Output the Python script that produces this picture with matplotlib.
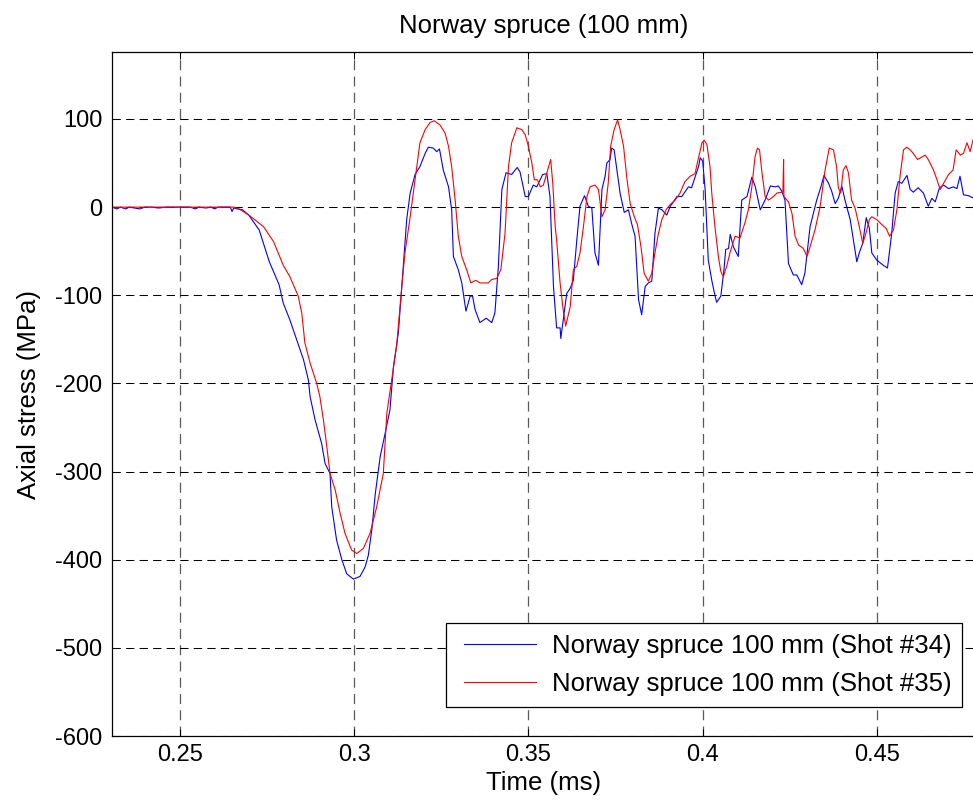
import numpy as np
import matplotlib
matplotlib.use("Agg")
import matplotlib.pyplot as plt
from matplotlib.legend_handler import HandlerLine2D

plt.rcParams['font.family'] = ['Liberation Sans', 'DejaVu Sans']
plt.rcParams['axes.unicode_minus'] = False

# Shot #34 (blue) - time in ms, axial stress in MPa
t34 = [0.2306, 0.2320, 0.2330, 0.2345, 0.2355, 0.2370, 0.2385, 0.2400, 0.2420, 0.2440,
       0.2460, 0.2530, 0.2545, 0.2555, 0.2575, 0.2590, 0.2600, 0.2610, 0.2645, 0.2650,
       0.2655, 0.2665, 0.2680, 0.2698, 0.2728, 0.2757, 0.2785, 0.2797, 0.2816, 0.2836,
       0.2855, 0.2869, 0.2874, 0.2888, 0.2907, 0.2917, 0.2931, 0.2936, 0.2950, 0.2965,
       0.2979, 0.2998, 0.3017, 0.3032, 0.3041, 0.3051, 0.3061, 0.3075, 0.3089, 0.3103,
       0.3113, 0.3127, 0.3137, 0.3151, 0.3161, 0.3175, 0.3189, 0.3204, 0.3213, 0.3227,
       0.3237, 0.3245, 0.3256, 0.3271, 0.3280, 0.3285, 0.3299, 0.3309, 0.3321, 0.3333,
       0.3340, 0.3347, 0.3361, 0.3379, 0.3395, 0.3404, 0.3414, 0.3424, 0.3436, 0.3452,
       0.3468, 0.3476, 0.3491, 0.3500, 0.3514, 0.3524, 0.3541, 0.3553, 0.3562, 0.3572,
       0.3581, 0.3591, 0.3593, 0.3600, 0.3610, 0.3620, 0.3629, 0.3639, 0.3648, 0.3661,
       0.3672, 0.3682, 0.3691, 0.3701, 0.3711, 0.3720, 0.3725, 0.3734, 0.3739, 0.3746,
       0.3754, 0.3763, 0.3775, 0.3787, 0.3797, 0.3806, 0.3816, 0.3825, 0.3835, 0.3844,
       0.3854, 0.3863, 0.3873, 0.3883, 0.3897, 0.3907, 0.3916, 0.3926, 0.3940, 0.3959,
       0.3968, 0.3979, 0.3988, 0.3993, 0.4000, 0.4007, 0.4016, 0.4026, 0.4035, 0.4040,
       0.4052, 0.4061, 0.4066, 0.4074, 0.4079, 0.4088, 0.4102, 0.4112, 0.4127, 0.4141,
       0.4151, 0.4165, 0.4179, 0.4194, 0.4208, 0.4217, 0.4227, 0.4236, 0.4246, 0.4260,
       0.4270, 0.4284, 0.4293, 0.4308, 0.4327, 0.4339, 0.4348, 0.4361, 0.4370, 0.4380,
       0.4389, 0.4399, 0.4408, 0.4423, 0.4432, 0.4442, 0.4449, 0.4459, 0.4469, 0.4478,
       0.4485, 0.4499, 0.4518, 0.4530, 0.4542, 0.4552, 0.4561, 0.4571, 0.4586, 0.4595,
       0.4604, 0.4618, 0.4633, 0.4647, 0.4657, 0.4667, 0.4679, 0.4691, 0.4705, 0.4719,
       0.4729, 0.4738, 0.4748, 0.4762, 0.4778]
s34 = [0, -2, 0, -2, 0, -1, -2, 0, 0, -1,
       0, 0, -2, 0, -1, 0, -2, 0, 0, -5,
       -1, -2, -3, -9, -26, -62, -88, -109, -128, -151,
       -173, -196, -215, -241, -268, -291, -302, -340, -378, -400,
       -416, -422, -419, -408, -395, -366, -325, -283, -257, -230,
       -181, -143, -90, -14, 16, 37, 46, 61, 68, 67,
       63, 66, 42, 23, -3, -56, -71, -86, -118, -101,
       -101, -116, -131, -126, -131, -120, -67, 20, 39, 37,
       45, 40, 12, 12, 25, 23, 37, 38, 12, -90,
       -137, -137, -149, -128, -98, -92, -83, -37, 1, 13,
       1, -1, -52, -66, 20, 35, 50, 54, 67, 65,
       42, 16, -6, -3, -20, -33, -105, -122, -90, -86,
       -84, -30, -1, -3, -9, 1, 6, 12, 12, 23,
       22, 35, 46, 56, 52, 20, -60, -83, -100, -108,
       -101, -71, -48, -47, -31, -45, -56, 8, 12, 34,
       23, -3, 8, 24, 23, 24, 18, 8, -64, -77,
       -77, -88, -75, -22, 8, 23, 36, 27, 18, 4,
       10, 24, 8, -14, -37, -62, -52, -41, -12, -24,
       -52, -60, -66, -69, -30, 16, 29, 27, 36, 20,
       17, 22, 16, 1, 10, 6, 22, 25, 21, 23,
       21, 35, 14, 13, 10]

# Shot #35 (red)
t35 = [0.2306, 0.2400, 0.2500, 0.2600, 0.2655, 0.2670, 0.2698, 0.2740, 0.2769, 0.2797,
       0.2816, 0.2840, 0.2850, 0.2859, 0.2874, 0.2893, 0.2902, 0.2912, 0.2922, 0.2931,
       0.2946, 0.2960, 0.2974, 0.2993, 0.3008, 0.3027, 0.3046, 0.3065, 0.3084, 0.3094,
       0.3108, 0.3122, 0.3137, 0.3146, 0.3161, 0.3175, 0.3189, 0.3204, 0.3218, 0.3230,
       0.3247, 0.3261, 0.3271, 0.3280, 0.3290, 0.3299, 0.3309, 0.3323, 0.3335, 0.3349,
       0.3361, 0.3385, 0.3395, 0.3409, 0.3421, 0.3433, 0.3443, 0.3452, 0.3467, 0.3481,
       0.3491, 0.3500, 0.3510, 0.3517, 0.3526, 0.3534, 0.3543, 0.3553, 0.3564, 0.3570,
       0.3577, 0.3581, 0.3591, 0.3600, 0.3607, 0.3620, 0.3629, 0.3639, 0.3648, 0.3658,
       0.3668, 0.3677, 0.3691, 0.3701, 0.3711, 0.3720, 0.3729, 0.3736, 0.3746, 0.3756,
       0.3763, 0.3773, 0.3783, 0.3792, 0.3804, 0.3813, 0.3823, 0.3832, 0.3844, 0.3854,
       0.3863, 0.3873, 0.3883, 0.3895, 0.3907, 0.3921, 0.3935, 0.3949, 0.3964, 0.3978,
       0.3988, 0.3998, 0.4004, 0.4012, 0.4021, 0.4026, 0.4035, 0.4045, 0.4052, 0.4059,
       0.4069, 0.4078, 0.4093, 0.4107, 0.4121, 0.4131, 0.4141, 0.4150, 0.4157, 0.4163,
       0.4170, 0.4179, 0.4189, 0.4203, 0.4213, 0.4227, 0.4230, 0.4232, 0.4233, 0.4246,
       0.4256, 0.4265, 0.4275, 0.4289, 0.4299, 0.4308, 0.4322, 0.4337, 0.4351, 0.4363,
       0.4375, 0.4384, 0.4389, 0.4396, 0.4403, 0.4411, 0.4418, 0.4427, 0.4437, 0.4449,
       0.4459, 0.4468, 0.4478, 0.4485, 0.4499, 0.4514, 0.4526, 0.4536, 0.4547, 0.4557,
       0.4566, 0.4576, 0.4585, 0.4595, 0.4604, 0.4616, 0.4629, 0.4638, 0.4647, 0.4662,
       0.4672, 0.4681, 0.4691, 0.4705, 0.4718, 0.4727, 0.4739, 0.4748, 0.4758, 0.4767,
       0.4778]
s35 = [0, 0, 0, 0, 0, -2, -9, -22, -39, -66,
       -79, -101, -120, -154, -177, -200, -215, -241, -272, -302,
       -321, -347, -370, -389, -393, -387, -370, -340, -302, -234,
       -196, -158, -90, -52, -11, 31, 73, 88, 96, 98,
       93, 84, 69, 46, 8, -33, -56, -71, -86, -83,
       -86, -86, -82, -81, -71, -30, 46, 73, 90, 88,
       82, 69, 50, 31, 31, 23, 25, 39, 54, 27,
       -22, -37, -86, -117, -135, -113, -71, -67, -52, -22,
       12, 23, 25, 20, -11, -3, 27, 69, 88, 99,
       88, 69, 31, 4, -11, -20, -45, -75, -84, -75,
       -52, -30, -14, -3, 3, 8, 16, 29, 35, 38,
       56, 73, 76, 71, 46, 16, -22, -56, -73, -79,
       -67, -52, -33, -35, -18, -3, 23, 57, 67, 65,
       39, 12, 8, 12, 16, 17, 17, 54, 12, 6,
       -7, -33, -43, -47, -56, -45, -26, 1, 42, 67,
       65, 46, 22, 16, 42, 47, 39, 8, -1, -22,
       -41, -30, -14, -11, -14, -20, -24, -33, -26, -3,
       35, 65, 68, 65, 61, 54, 57, 59, 54, 42,
       31, 20, 27, 37, 42, 65, 59, 61, 73, 63,
       80]

xticks = [0.25, 0.3, 0.35, 0.4, 0.45]
xticklabels = ['0.25', '0.3', '0.35', '0.4', '0.45']
yticks = [-600, -500, -400, -300, -200, -100, 0, 100]

W, H = 973, 805
fig = plt.figure(figsize=(W / 100, H / 100), dpi=100)
ax = fig.add_axes([112 / W, (H - 736) / H, (975 - 112) / W, (736 - 52) / H])

ax.plot(t34, s34, color='#0000ff', lw=0.8, label='Norway spruce 100 mm (Shot #34)')
ax.plot(t35, s35, color='#ff0000', lw=0.8, label='Norway spruce 100 mm (Shot #35)')

ax.set_xlim(0.23058, 0.4781)
ax.set_ylim(-600, 176)
ax.set_xticks(xticks)
ax.set_xticklabels(xticklabels)
ax.set_yticks(yticks)

ax.set_axisbelow(True)
ax.yaxis.grid(True, color='black', lw=0.75, linestyle=(0, (8, 5)))
ax.xaxis.grid(True, color='0.35', lw=0.9, linestyle=(0, (8, 5)))
ax.tick_params(direction='in', top=True, right=True, length=5, width=0.75,
               labelsize=17, pad=5.5)
ax.tick_params(axis='y', pad=7)
for sp in ax.spines.values():
    sp.set_linewidth(0.9)

ax.set_title('Norway spruce (100 mm)', fontsize=18.5, pad=14)
ax.set_xlabel('Time (ms)', fontsize=18.5, labelpad=4)
ax.set_ylabel('Axial stress (MPa)', fontsize=18.5, labelpad=10)

leg = ax.legend(loc='upper left', bbox_to_anchor=(445.7 / W, (H - 623.3) / H),
                bbox_transform=fig.transFigure, borderaxespad=0,
                fontsize=18.5, frameon=True, fancybox=False, framealpha=1,
                edgecolor='black', borderpad=0.42, labelspacing=0.54,
                handlelength=3.1, handletextpad=0.62,
                handler_map={matplotlib.lines.Line2D: HandlerLine2D(xpad=0.3)})
leg.get_frame().set_linewidth(0.9)

fig.savefig('out.png', dpi=100)
